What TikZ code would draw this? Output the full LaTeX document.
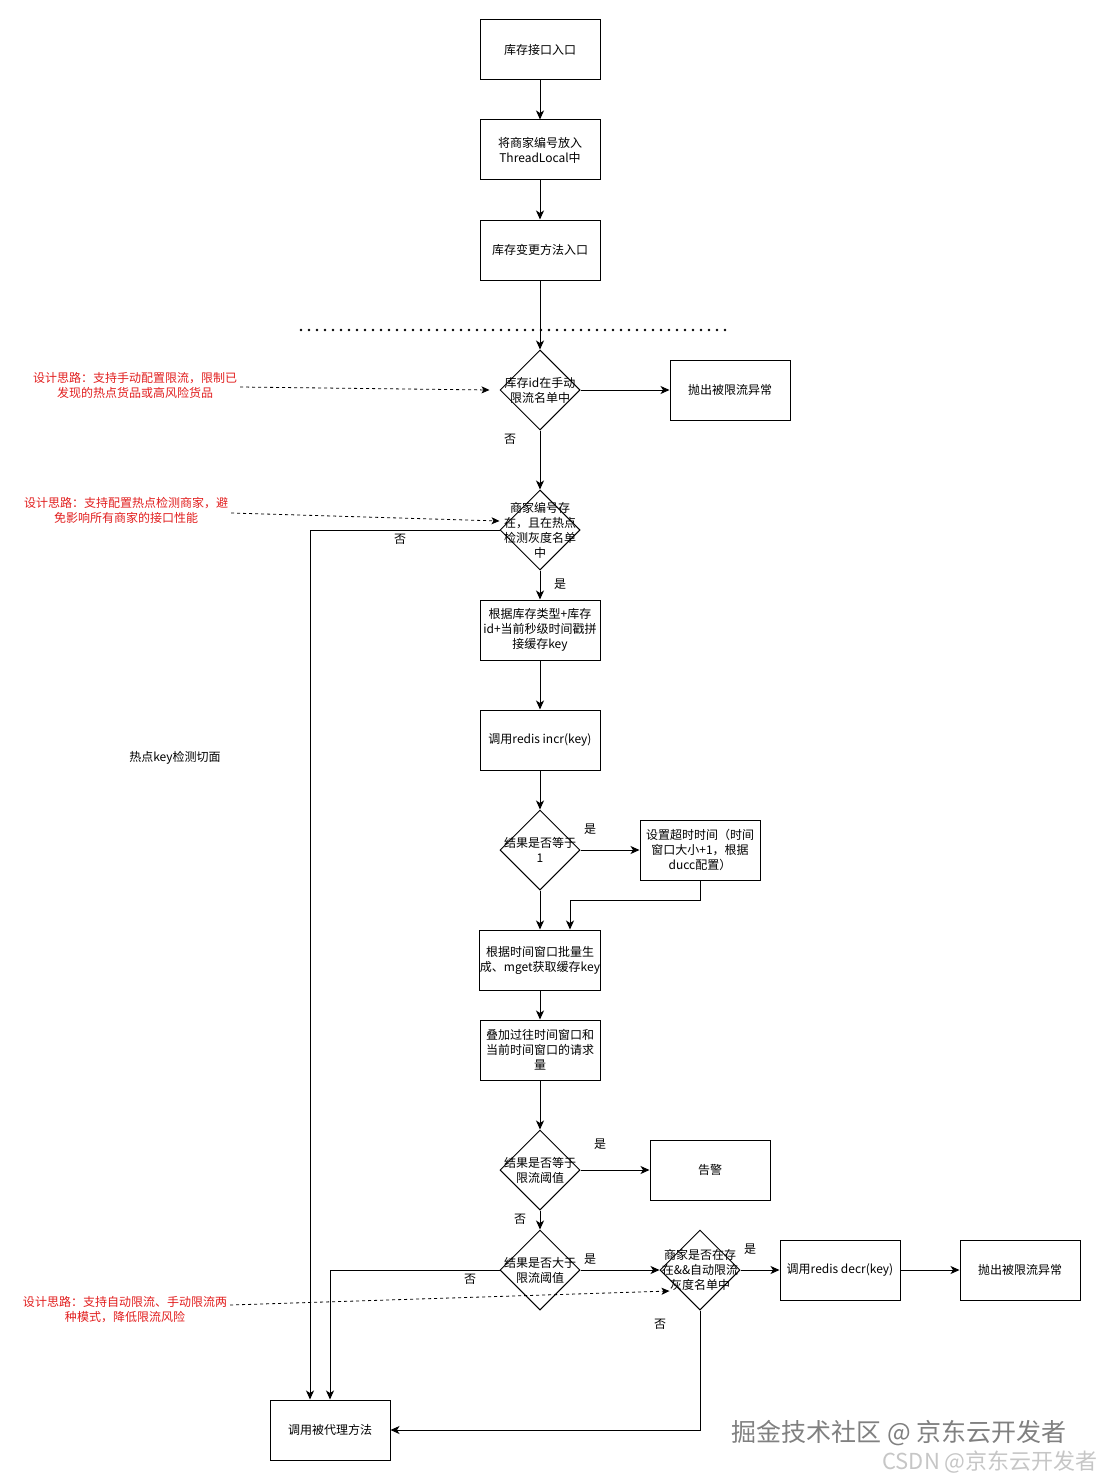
\documentclass[tikz,border=0pt]{standalone}
\usepackage{fontspec}
\setmainfont{Noto Sans CJK SC}
\usetikzlibrary{arrows.meta,shapes.geometric}
\definecolor{notered}{RGB}{225,30,30}

\begin{document}
\begin{tikzpicture}[x=1pt,y=-1pt,
		box/.style={draw, line width=1pt, minimum width=120pt, minimum height=60pt, inner sep=0pt, align=center, font=\fontsize{12}{15}\selectfont},
		decision/.style={diamond, draw, line width=1pt, minimum width=80pt, minimum height=80pt, inner sep=0pt},
		dtext/.style={align=center, inner sep=0pt, font=\fontsize{12}{15}\selectfont},
		flow/.style={line width=1pt, -{Stealth[length=9pt,width=8pt,inset=2.5pt]}},
		hint/.style={line width=0.8pt, dash pattern=on 3pt off 3pt, -{Stealth[length=8pt,width=7pt,inset=2pt]}},
		note/.style={text=notered, align=center, inner sep=0pt, font=\fontsize{12}{15}\selectfont},
		yesno/.style={inner sep=0pt, font=\fontsize{12}{15}\selectfont},
		watermark/.style={inner sep=0pt, text=gray}]
		\useasboundingbox (0,0) rectangle (1101,1482);
		\node[box] (entry) at (540,50) {库存接口入口};
		\node[box] (tlocal) at (540,150) {将商家编号放入\\ThreadLocal中};
		\node[box] (change) at (540,250) {库存变更方法入口};
		\node[decision, label={[dtext]center:{库存id在手动\\限流名单中}}] (manual) at (540,390) {};
		\node[box] (throwa) at (730,390) {抛出被限流异常};
		\node[decision, label={[dtext]center:{商家编号存\\在，且在热点\\检测灰度名单\\中}}] (merchant) at (540,530) {};
		\node[box] (cachekey) at (540,630) {根据库存类型+库存\\id+当前秒级时间戳拼\\接缓存key};
		\node[box] (incr) at (540,740) {调用redis incr(key)};
		\node[decision, label={[dtext]center:{结果是否等于\\1}}] (isone) at (540,850) {};
		\node[box] (expire) at (700,850) {设置超时时间（时间\\窗口大小+1，根据\\ducc配置）};
		\node[box] (mget) at (540,960) {根据时间窗口批量生\\成、mget获取缓存key};
		\node[box] (sum) at (540,1050) {叠加过往时间窗口和\\当前时间窗口的请求\\量};
		\node[decision, label={[dtext]center:{结果是否等于\\限流阈值}}] (equal) at (540,1170) {};
		\node[box] (alarm) at (710,1170) {告警};
		\node[decision, label={[dtext]center:{结果是否大于\\限流阈值}}] (greater) at (540,1270) {};
		\node[decision, label={[dtext]center:{商家是否在存\\在\&\&自动限流\\灰度名单中}}] (auto) at (700,1270) {};
		\node[box] (decr) at (840,1270) {调用redis decr(key)};
		\node[box] (throwb) at (1020,1270) {抛出被限流异常};
		\node[box] (proxy) at (330,1430) {调用被代理方法};

		\coordinate (dotl) at (301,330);
		\coordinate (dotr) at (727,330);
		\draw[line width=2.6pt, line cap=round, dash pattern=on 0pt off 8pt] (dotl) -- (dotr);

		\draw[flow] (entry) -- (tlocal);
		\draw[flow] (tlocal) -- (change);
		\draw[flow] (change) -- (manual);
		\draw[flow] (manual) -- (throwa);
		\draw[flow] (manual) -- (merchant);
		\draw[flow] (merchant.west) -| ([xshift=-20pt]proxy.north);
		\draw[flow] (merchant) -- (cachekey);
		\draw[flow] (cachekey) -- (incr);
		\draw[flow] (incr) -- (isone);
		\draw[flow] (isone) -- (expire);
		\draw[flow] (isone) -- (mget);
		\draw[flow] (expire.south) -- ++(0,20) -| ([xshift=30pt]mget.north);
		\draw[flow] (mget) -- (sum);
		\draw[flow] (sum) -- (equal);
		\draw[flow] (equal) -- (alarm);
		\draw[flow] (equal) -- (greater);
		\draw[flow] (greater) -- (auto);
		\draw[flow] (greater.west) -| (proxy.north);
		\draw[flow] (auto) -- (decr);
		\draw[flow] (decr) -- (throwb);
		\draw[flow] (auto.south) |- (proxy.east);

		\node[yesno] (no1) at (510,439) {否};
		\node[yesno] (no2) at (400,539) {否};
		\node[yesno] (yes2) at (560,584) {是};
		\node[yesno] (yes3) at (590,829) {是};
		\node[yesno] (yes4) at (600,1144) {是};
		\node[yesno] (no4) at (520,1219) {否};
		\node[yesno] (yes5) at (590,1259) {是};
		\node[yesno] (no5) at (470,1279) {否};
		\node[yesno] (yes6) at (750,1249) {是};
		\node[yesno] (no6) at (660,1324) {否};

		\node[yesno] (aspect) at (175,758) {热点key检测切面};

		\node[note] (hintmanual) at (135,385) {设计思路：支持手动配置限流，限制已\\发现的热点货品或高风险货品};
		\node[note] (hintgray) at (126,510) {设计思路：支持配置热点检测商家，避\\免影响所有商家的接口性能};
		\node[note] (hintauto) at (125,1310) {设计思路：支持自动限流、手动限流两\\种模式，降低限流风险};
		\draw[hint] ([xshift=3pt,yshift=-2pt]hintmanual.east) -- ([xshift=-10pt]manual.west);
		\draw[hint] ([xshift=3pt,yshift=-3pt]hintgray.east) -- ([yshift=9pt]merchant.west);
		\draw[hint] ([xshift=3pt,yshift=5pt]hintauto.east) -- ([xshift=10pt,yshift=-21pt]auto.west);

		\node[watermark, font=\fontsize{25}{25}\selectfont] (wmjuejin) at (899,1433) {掘金技术社区 @ 京东云开发者};
		\node[watermark, font=\fontsize{22}{22}\selectfont, text=gray!45] (wmcsdn) at (990,1462) {CSDN @京东云开发者};
	\end{tikzpicture}
\end{document}
